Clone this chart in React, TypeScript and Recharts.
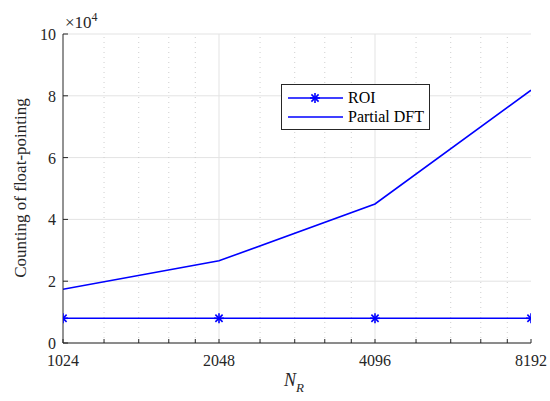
import { LineChart, Line, XAxis, YAxis, CartesianGrid, ReferenceLine } from 'recharts'

// values (x axis is log2-spaced)
const NR = [1024, 2048, 4096, 8192]
const ROI = [8000, 8000, 8000, 8000]
const PARTIAL_DFT = [17400, 26600, 45000, 81800]

const MAJOR_X = [1024, 2048, 4096, 8192]
const MINOR_X = [
  1228.8, 1433.6, 1638.4, 1843.2,
  2457.6, 2867.2, 3276.8, 3686.4,
  4915.2, 5734.4, 6553.6, 7372.8,
]
const Y_TICKS = [0, 20000, 40000, 60000, 80000, 100000]
const LEGEND_ITEMS = ['ROI', 'Partial DFT']

const BLUE = '#0000ff'
const AXIS = '#262626'
const GRID = '#e3e3e3'
const FONT = "'Liberation Serif', Tinos, 'Times New Roman', serif"

const data = NR.map((n, i) => ({ n, roi: ROI[i], dft: PARTIAL_DFT[i] }))
const allX = [...MAJOR_X, ...MINOR_X].sort((a, b) => a - b)

const Asterisk = (props: any) => {
  const { cx, cy } = props
  if (cx == null || cy == null) return null
  const r = 5
  const d = r * 0.72
  return (
    <g stroke={BLUE} strokeWidth={1.6}>
      <line x1={cx} y1={cy - r} x2={cx} y2={cy + r} />
      <line x1={cx - r} y1={cy} x2={cx + r} y2={cy} />
      <line x1={cx - d} y1={cy - d} x2={cx + d} y2={cy + d} />
      <line x1={cx - d} y1={cy + d} x2={cx + d} y2={cy - d} />
    </g>
  )
}

const BottomTick = (props: any) => {
  const { x, y, payload } = props
  const major = MAJOR_X.includes(payload.value)
  return (
    <g>
      <line x1={x} y1={y} x2={x} y2={y - 4} stroke={AXIS} strokeWidth={1} />
      {major && (
        <text x={x} y={y + 23} textAnchor="middle" style={{ fontFamily: FONT }} fontSize={16} fill="#262626">
          {payload.value}
        </text>
      )}
    </g>
  )
}

const TopTick = (props: any) => {
  const { x, y } = props
  return <line x1={x} y1={y} x2={x} y2={y + 4} stroke={AXIS} strokeWidth={1} />
}

const LeftTick = (props: any) => {
  const { x, y, payload } = props
  return (
    <g>
      <line x1={x} y1={y} x2={x + 5} y2={y} stroke={AXIS} strokeWidth={1} />
      <text x={x - 7} y={y + 6} textAnchor="end" style={{ fontFamily: FONT }} fontSize={16} fill="#262626">
        {payload.value / 10000}
      </text>
    </g>
  )
}

const RightTick = (props: any) => {
  const { x, y } = props
  return <line x1={x} y1={y} x2={x - 5} y2={y} stroke={AXIS} strokeWidth={1} />
}

export default function App() {
  return (
    <div style={{ position: 'absolute', left: 0, top: 0, width: 550, height: 401, background: '#fff', fontFamily: FONT }}>
      <LineChart width={550} height={401} data={data} margin={{ top: 34, right: 19, bottom: 0, left: 0 }}>
        <CartesianGrid vertical={false} stroke={GRID} strokeWidth={1} yAxisId="left" xAxisId="bottom" />
        {MINOR_X.map((v) => (
          <ReferenceLine key={v} x={v} xAxisId="bottom" yAxisId="left" stroke="#cfcfcf" strokeDasharray="1 4" />
        ))}
        {MAJOR_X.slice(1, -1).map((v) => (
          <ReferenceLine key={v} x={v} xAxisId="bottom" yAxisId="left" stroke={GRID} />
        ))}
        <XAxis
          xAxisId="bottom"
          dataKey="n"
          type="number"
          scale="log"
          domain={[1024, 8192]}
          ticks={allX}
          interval={0}
          allowDataOverflow
          height={58}
          tickSize={0}
          tickMargin={0}
          tickLine={false}
          tick={<BottomTick />}
          axisLine={{ stroke: AXIS }}
        />
        <XAxis
          xAxisId="top"
          orientation="top"
          dataKey="n"
          type="number"
          scale="log"
          domain={[1024, 8192]}
          ticks={allX}
          interval={0}
          allowDataOverflow
          height={0}
          tickSize={0}
          tickMargin={0}
          tickLine={false}
          tick={<TopTick />}
          axisLine={{ stroke: AXIS }}
        />
        <YAxis
          yAxisId="left"
          type="number"
          domain={[0, 100000]}
          ticks={Y_TICKS}
          interval={0}
          width={63}
          tickSize={0}
          tickMargin={0}
          tickLine={false}
          tick={<LeftTick />}
          axisLine={{ stroke: AXIS }}
        />
        <YAxis
          yAxisId="right"
          orientation="right"
          type="number"
          domain={[0, 100000]}
          ticks={Y_TICKS}
          interval={0}
          width={0}
          tickSize={0}
          tickMargin={0}
          tickLine={false}
          tick={<RightTick />}
          axisLine={{ stroke: AXIS }}
        />
        <Line
          xAxisId="bottom"
          yAxisId="left"
          dataKey="roi"
          name="ROI"
          stroke={BLUE}
          strokeWidth={1.6}
          dot={<Asterisk />}
          activeDot={false}
          isAnimationActive={false}
        />
        <Line
          xAxisId="bottom"
          yAxisId="left"
          dataKey="dft"
          name="Partial DFT"
          stroke={BLUE}
          strokeWidth={1.6}
          dot={false}
          activeDot={false}
          isAnimationActive={false}
        />
      </LineChart>
      <div
        style={{
          position: 'absolute',
          left: 281,
          top: 84,
          width: 149,
          height: 46,
          border: '1px solid #262626',
          background: '#fff',
          fontSize: 16,
          color: '#000',
          boxSizing: 'border-box',
          padding: '3px 0 0 6px',
        }}
      >
        {LEGEND_ITEMS.map((name, i) => (
          <div key={name} style={{ display: 'flex', alignItems: 'center', height: 19 }}>
            <svg width={56} height={14}>
              <line x1={0} y1={7} x2={55} y2={7} stroke={BLUE} strokeWidth={1.6} />
              {i === 0 && <Asterisk cx={27} cy={7} />}
            </svg>
            <span style={{ marginLeft: 4 }}>{name}</span>
          </div>
        ))}
      </div>
      <div style={{ position: 'absolute', left: 65, top: 14, fontSize: 17, color: '#262626', lineHeight: 1 }}>
        ×10<span style={{ fontSize: 12, position: 'relative', top: -7 }}>4</span>
      </div>
      <div
        style={{
          position: 'absolute',
          left: 21,
          top: 188,
          transform: 'translate(-50%, -50%) rotate(-90deg)',
          whiteSpace: 'nowrap',
          fontSize: 17,
          color: '#262626',
        }}
      >
        Counting of float-pointing
      </div>
      <div style={{ position: 'absolute', left: 284, top: 371, fontSize: 18, fontStyle: 'italic', color: '#262626', lineHeight: 1 }}>
        N<span style={{ fontSize: 13, position: 'relative', top: 6 }}>R</span>
      </div>
    </div>
  )
}
